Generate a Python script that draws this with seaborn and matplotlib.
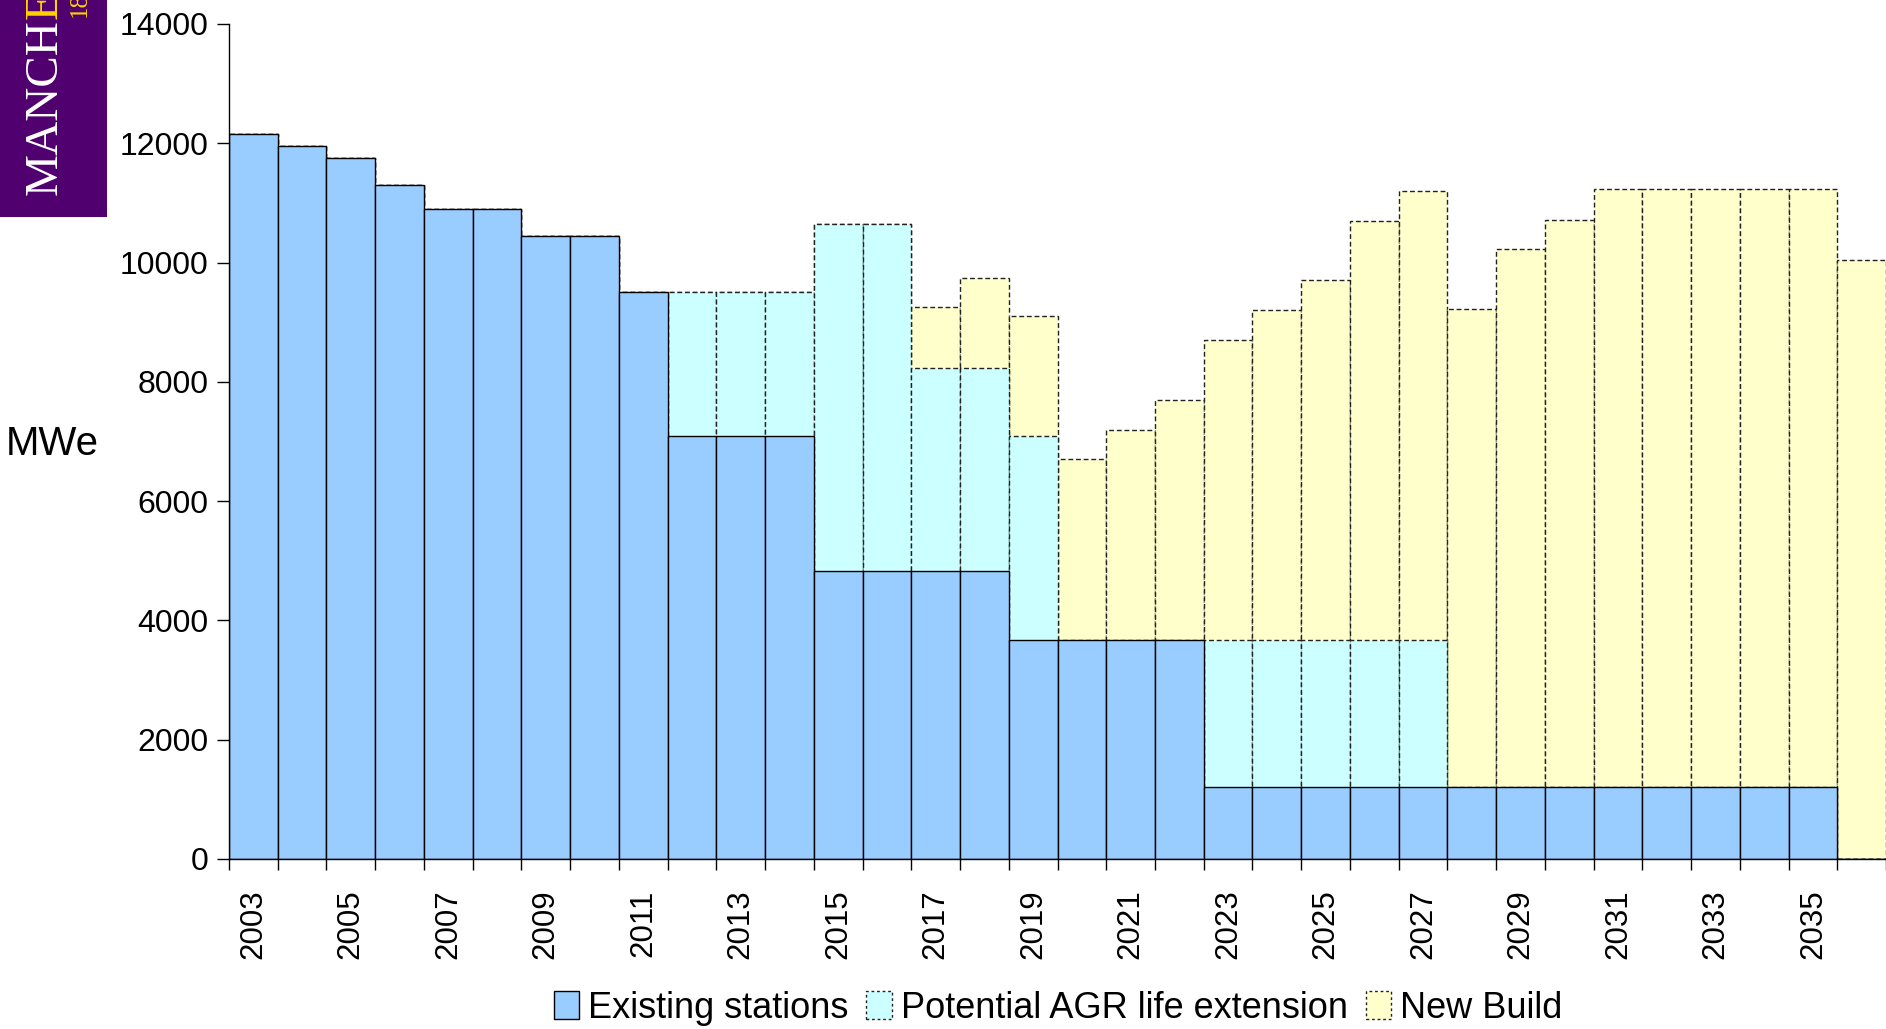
import numpy as np
import pandas as pd
import seaborn as sns
import matplotlib.pyplot as plt
from matplotlib.patches import Patch, Rectangle

years = [str(y) for y in range(2003, 2037)]

# MWe per year
existing = [12150, 11950, 11750, 11300, 10900, 10900, 10450, 10450, 9500,
            7090, 7090, 7090, 4830, 4830, 4830, 4830, 3680, 3680, 3680, 3680,
            1200, 1200, 1200, 1200, 1200, 1200, 1200, 1200, 1200, 1200, 1200,
            1200, 1200, 0]
agr_ext = [0, 0, 0, 0, 0, 0, 0, 0, 0,
           2410, 2410, 2410, 5820, 5820, 3400, 3400, 3410, 0, 0, 0,
           2480, 2480, 2480, 2480, 2480, 0, 0, 0, 0, 0, 0,
           0, 0, 0]
new_build = [0, 0, 0, 0, 0, 0, 0, 0, 0,
             0, 0, 0, 0, 0, 1020, 1510, 2010, 3020, 3520, 4020,
             5020, 5520, 6020, 7020, 7520, 8020, 9020, 9520, 10030, 10030, 10030,
             10030, 10030, 10050]

df = pd.DataFrame({"year": years, "existing": existing,
                   "agr": agr_ext, "new": new_build})
df["lvl1"] = df["existing"]
df["lvl2"] = df["existing"] + df["agr"]
df["lvl3"] = df["lvl2"] + df["new"]

c_exist = "#99CCFF"
c_agr = "#CCFFFF"
c_new = "#FFFFCC"
dash = (0, (3.5, 2))

sns.set_style("white")
plt.rcParams["font.family"] = ["Liberation Sans", "DejaVu Sans"]
plt.rcParams["text.color"] = "black"
plt.rcParams["xtick.color"] = "black"
plt.rcParams["ytick.color"] = "black"

fig = plt.figure(figsize=(18.86, 10.29), dpi=100)
ax = fig.add_axes([229 / 1886, 1 - 859 / 1029, 1 - 229 / 1886, (859 - 24) / 1029])

# stacked by overlaying cumulative totals
sns.barplot(data=df, x="year", y="lvl3", color=c_new, saturation=1, width=1,
            edgecolor="#222222", linewidth=1.0, linestyle=dash, ax=ax)
sns.barplot(data=df, x="year", y="lvl2", color=c_agr, saturation=1, width=1,
            edgecolor="#222222", linewidth=1.0, linestyle=dash, ax=ax)
sns.barplot(data=df, x="year", y="lvl1", color=c_exist, saturation=1, width=1,
            edgecolor="black", linewidth=1.0, ax=ax)

ax.set_xlim(-0.5, len(years) - 0.5)
ax.set_ylim(0, 14000)
ax.set_yticks(range(0, 14001, 2000))
ax.tick_params(axis="y", labelsize=23, length=9, width=1, color="black",
               labelcolor="black", direction="out", left=True, pad=6)
ax.set_xticks(np.arange(0, len(years), 2))
ax.set_xticklabels(years[::2], rotation=90, fontsize=22.5)
ax.tick_params(axis="x", which="major", length=0, pad=22, labelcolor="black")
ax.set_xticks(np.arange(-0.5, len(years), 1), minor=True)
ax.tick_params(axis="x", which="minor", length=8, width=1, color="black",
               direction="out", bottom=True)
ax.set_xlabel("")
ax.set_ylabel("")
for s in ["top", "right"]:
    ax.spines[s].set_visible(False)
for s in ["left", "bottom"]:
    ax.spines[s].set_color("black")
    ax.spines[s].set_linewidth(1.0)

fig.text(6 / 1886, 1 - 444 / 1029, "MWe", ha="left", va="center", fontsize=29,
         color="black")

handles = [
    Patch(facecolor=c_exist, edgecolor="black", linewidth=1.0),
    Patch(facecolor=c_agr, edgecolor="#222222", linewidth=1.0, linestyle=(0, (2, 2))),
    Patch(facecolor=c_new, edgecolor="#222222", linewidth=1.0, linestyle=(0, (2, 2))),
]
leg = fig.legend(handles, ["Existing stations", "Potential AGR life extension", "New Build"],
                 loc="center", bbox_to_anchor=(1058 / 1886, 1 - 1008 / 1029), ncol=3,
                 frameon=False, fontsize=26, handlelength=0.7, handleheight=0.85,
                 handletextpad=0.25, columnspacing=0.5)
for t in leg.get_texts():
    t.set_color("black")

# university logo block, top left (runs off the top of the figure)
fig.patches.append(Rectangle((0, 1 - 217 / 1029), 107 / 1886, 217 / 1029,
                             transform=fig.transFigure, facecolor="#51006F",
                             edgecolor="none", zorder=0))
t1 = fig.text(45 / 1886, 1 - 195 / 1029, "MANCH", rotation=90, ha="center",
              va="bottom", color="white", fontsize=34, family="Liberation Serif")
fig.canvas.draw()
top = fig.transFigure.inverted().transform(
    (0, t1.get_window_extent(fig.canvas.get_renderer()).y1))[1]
fig.text(45 / 1886, top, "ESTER", rotation=90, ha="center", va="bottom",
         color="#FFD200", fontsize=34, family="Liberation Serif")
fig.text(80 / 1886, 1 - 17 / 1029, "1824", rotation=90, ha="center",
         va="bottom", color="#FFD200", fontsize=18, family="Liberation Serif")

fig.savefig("out.png", dpi=100)
